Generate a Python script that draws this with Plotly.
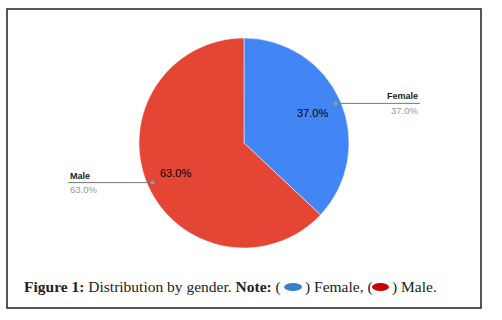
import numpy as np
import plotly.graph_objects as go

labels = ["Female", "Male"]
values = [37.0, 63.0]
colors = ["#4285F4", "#E54535"]
caption_colors = ["#3A80C8", "#CC0000"]

W, H = 502, 320
cx, cy, R = 244, 143, 105  # pixel geometry of the pie

def px(x):
    return x / W

def py(y):
    return 1 - y / H

fig = go.Figure()
fig.add_trace(go.Pie(
    labels=labels, values=values, sort=False, direction="clockwise", rotation=0,
    marker=dict(colors=colors, line=dict(color="white", width=0.5)),
    textinfo="none",
    domain=dict(x=[px(cx - R), px(cx + R)], y=[py(cy + R), py(cy - R)]),
    showlegend=False, hoverinfo="skip",
))

shapes = []
annotations = []
# border
shapes.append(dict(type="rect", xref="paper", yref="paper",
                   x0=px(7), x1=px(481), y0=py(308), y1=py(9),
                   line=dict(color="#222", width=1.5)))

# labels and leader lines along slice bisectors
total = sum(values)
cum = np.cumsum([0] + values[:-1])
for lab, v, c0 in zip(labels, values, cum):
    mid = (c0 + v / 2) / total * 2 * np.pi
    dx, dy = np.sin(mid), -np.cos(mid)
    pct = f"{v / total * 100:.1f}%"
    # inside percentage label
    annotations.append(dict(xref="paper", yref="paper",
                            x=px(cx + 0.71 * R * dx), y=py(cy + 0.71 * R * dy),
                            text=pct, showarrow=False, xanchor="center", yanchor="middle",
                            font=dict(family="Arial, Liberation Sans", size=11, color="black")))
    x0 = cx + 0.95 * R * dx
    y0 = cy + 0.95 * R * dy
    right = dx > 0
    x1 = 420 if right else 68
    shapes.append(dict(type="line", xref="paper", yref="paper",
                       x0=px(x0), x1=px(x1), y0=py(y0), y1=py(y0),
                       line=dict(color="#777", width=1)))
    shapes.append(dict(type="circle", xref="paper", yref="paper",
                       x0=px(x0 - 2), x1=px(x0 + 2), y0=py(y0 + 2), y1=py(y0 - 2),
                       fillcolor="#999", line=dict(width=0)))
    anchor = "right" if right else "left"
    annotations.append(dict(xref="paper", yref="paper", x=px(x1), y=py(y0 - 7),
                            text=f"<b>{lab}</b>", showarrow=False, xanchor=anchor,
                            yanchor="middle",
                            font=dict(family="Arial, Liberation Sans", size=9, color="#222")))
    annotations.append(dict(xref="paper", yref="paper", x=px(x1), y=py(y0 + 7),
                            text=pct, showarrow=False, xanchor=anchor,
                            yanchor="middle",
                            font=dict(family="Arial, Liberation Sans", size=9.5, color="#999")))

# caption
cap_y = 287
cap_font = dict(family="Liberation Serif, Times New Roman, serif", size=15.5, color="#222")
annotations.append(dict(xref="paper", yref="paper", x=px(22), y=py(cap_y),
                        text="<b>Figure 1:</b> Distribution by gender. <b>Note:</b> (",
                        showarrow=False, xanchor="left", yanchor="middle", font=cap_font))
shapes.append(dict(type="circle", xref="paper", yref="paper",
                   x0=px(284), x1=px(302), y0=py(cap_y + 4), y1=py(cap_y - 4),
                   fillcolor=caption_colors[0], line=dict(width=0)))
annotations.append(dict(xref="paper", yref="paper", x=px(303), y=py(cap_y),
                        text=f") {labels[0]}, (", showarrow=False, xanchor="left",
                        yanchor="middle", font=cap_font))
shapes.append(dict(type="circle", xref="paper", yref="paper",
                   x0=px(372), x1=px(389), y0=py(cap_y + 4), y1=py(cap_y - 4),
                   fillcolor=caption_colors[1], line=dict(width=0)))
annotations.append(dict(xref="paper", yref="paper", x=px(390), y=py(cap_y),
                        text=f") {labels[1]}.", showarrow=False, xanchor="left",
                        yanchor="middle", font=cap_font))

fig.update_layout(width=W, height=H, margin=dict(l=0, r=0, t=0, b=0),
                  paper_bgcolor="white", plot_bgcolor="white",
                  shapes=shapes, annotations=annotations)
fig.write_html("out.html", config={"displayModeBar": False},
               post_script="document.body.style.margin='0';")
